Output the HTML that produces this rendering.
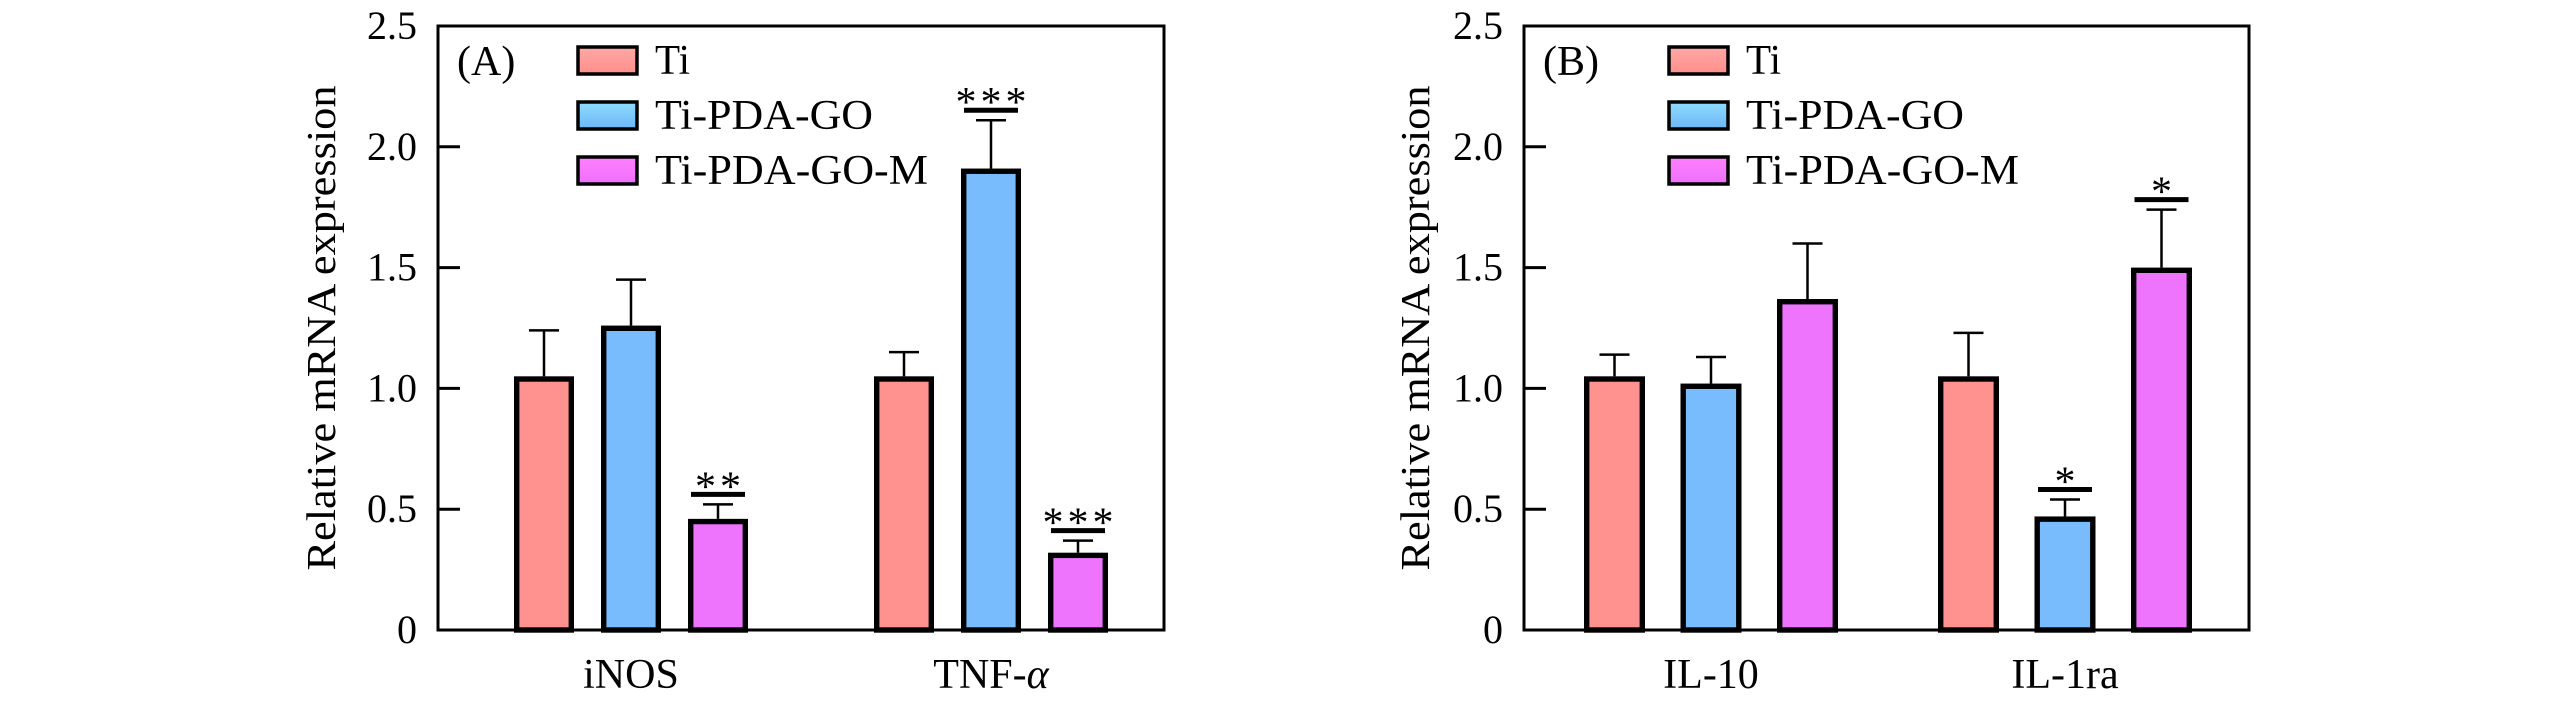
<!DOCTYPE html>
<html><head><meta charset="utf-8"><style>
html,body{margin:0;padding:0;background:#fff;}
svg{display:block;font-family:"Liberation Serif",serif;}
</style></head><body>
<svg id="chart" width="2567" height="709" viewBox="0 0 2567 709" xmlns="http://www.w3.org/2000/svg">
<defs>
<linearGradient id="gTi" x1="0" y1="0" x2="0" y2="1"><stop offset="0" stop-color="#ffa9a6"/><stop offset="1" stop-color="#ff8e8c"/></linearGradient>
<linearGradient id="gGO" x1="0" y1="0" x2="0" y2="1"><stop offset="0" stop-color="#8fdcff"/><stop offset="1" stop-color="#6db6f7"/></linearGradient>
<linearGradient id="gM" x1="0" y1="0" x2="0" y2="1"><stop offset="0" stop-color="#ff80ff"/><stop offset="1" stop-color="#ec70fb"/></linearGradient>
</defs>
</svg>
<script>
// ---- data ----
const seriesNames = ["Ti", "Ti-PDA-GO", "Ti-PDA-GO-M"];
const panelLabels = ["(A)", "(B)"];
const categoriesA = ["iNOS", "TNF-α"];
const categoriesB = ["IL-10", "IL-1ra"];
const valuesA_Ti = [1.05, 1.05];
const valuesA_GO = [1.26, 1.91];
const valuesA_M  = [0.46, 0.32];
const errA_Ti = [0.19, 0.10];
const errA_GO = [0.19, 0.20];
const errA_M  = [0.06, 0.05];
const sigA_Ti = ["", ""];
const sigA_GO = ["", "***"];
const sigA_M  = ["**", "***"];
const valuesB_Ti = [1.05, 1.05];
const valuesB_GO = [1.02, 0.47];
const valuesB_M  = [1.37, 1.50];
const errB_Ti = [0.09, 0.18];
const errB_GO = [0.11, 0.07];
const errB_M  = [0.23, 0.24];
const sigB_Ti = ["", ""];
const sigB_GO = ["", "*"];
const sigB_M  = ["", "*"];
const yTicks = [0, 0.5, 1.0, 1.5, 2.0, 2.5];
const yTickLabels = ["0", "0.5", "1.0", "1.5", "2.0", "2.5"];

const NS = "http://www.w3.org/2000/svg";
const svg = document.getElementById("chart");
const fills = ["#ff918f", "#78bcfd", "#ee74fe"];
const legFills = ["url(#gTi)", "url(#gGO)", "url(#gM)"];
const legWidths = [35, 218, 273];

function mk(tag, attrs, parent) {
  const e = document.createElementNS(NS, tag);
  for (const k in attrs) e.setAttribute(k, attrs[k]);
  (parent || svg).appendChild(e);
  return e;
}

function drawPanel(p) {
  const g = mk("g", {});
  
  
  const y0 = 630, y1 = 26, ymax = 2.5;
  const yScale = v => y0 - (v / ymax) * (y0 - y1);
  const xCenter = (ci, si) => p.left + p.groupOffsets[ci] + (si - 1) * p.step;

  yTicks.forEach((t, i) => {
    const y = yScale(t);
    if (t > 0 && t < ymax) {
      const tk = mk("line", {x1: p.left, x2: p.left + 22, y1: y, y2: y, stroke: "#000", "stroke-width": 3}, g);
      
      
    }
    const tl = mk("text", {x: p.left - 21, y: y + 13, "text-anchor": "end", "font-size": 40}, g);
    tl.textContent = yTickLabels[i];
    
    
  });

  const yt = mk("text", {x: 0, y: 0, "text-anchor": "middle", "font-size": 41, textLength: 485, lengthAdjust: "spacingAndGlyphs",
    transform: `translate(${p.titleX},328) rotate(-90)`}, g);
  yt.textContent = "Relative mRNA expression";
  
  

  const vals = [p.ti, p.go, p.m], errs = [p.eti, p.ego, p.em], sigs = [p.sti, p.sgo, p.sm];
  p.cats.forEach((c, ci) => {
    for (let si = 0; si < 3; si++) {
      const cx = xCenter(ci, si);
      const v = vals[si][ci], e = errs[si][ci];
      const top = yScale(v), et = yScale(v + e);
      const eb = mk("line", {x1: cx, x2: cx, y1: top, y2: et, stroke: "#000", "stroke-width": 2.5}, g);
      
      
      const ec = mk("line", {x1: cx - 15, x2: cx + 15, y1: et, y2: et, stroke: "#000", "stroke-width": 2.5}, g);
      
      
      const r = mk("rect", {x: cx - p.bw / 2 + 2.7, y: top + 2.7, width: p.bw - 5.4, height: y0 - top - 2.7,
        fill: fills[si], stroke: "#000", "stroke-width": 5.4}, g);
      
      
      const s = sigs[si][ci];
      if (s) {
        const sy = et - 10;
        const sl = mk("line", {x1: cx - 27, x2: cx + 27, y1: sy, y2: sy, stroke: "#000", "stroke-width": 5}, g);
        
        
        const st = mk("text", {x: cx + 2, y: sy + 6, "text-anchor": "middle", "font-size": 42, "letter-spacing": 4}, g);
        st.textContent = s;
        
        
      }
    }
    const cl = mk("text", {x: xCenter(ci, 1), y: 688, "text-anchor": "middle", "font-size": 42}, g);
    if (c.indexOf("α") >= 0) {
      const t1 = mk("tspan", {}, cl); t1.textContent = c.replace("α", "");
      const t2 = mk("tspan", {"font-style": "italic"}, cl); t2.textContent = "α";
    } else cl.textContent = c;
    
    
  });

  const fr = mk("rect", {x: p.left, y: y1, width: p.right - p.left, height: y0 - y1, fill: "none", stroke: "#000", "stroke-width": 3}, g);
  
  

  const pl = mk("text", {x: p.left + 19, y: 75, "font-size": 42}, g);
  pl.textContent = p.label;
  
  

  const legYs = [60, 115, 170];
  seriesNames.forEach((n, i) => {
    const sw = mk("rect", {x: p.legX, y: legYs[i] - 13, width: 59, height: 27, fill: legFills[i], stroke: "#000", "stroke-width": 3.5}, g);
    
    
    const lt = mk("text", {x: p.legX + 77, y: legYs[i] + 14, "font-size": 42, textLength: legWidths[i], lengthAdjust: "spacingAndGlyphs"}, g);
    lt.textContent = n;
    
    
  });
}

drawPanel({name: "panel-a", label: panelLabels[0], left: 438, right: 1164, groupOffsets: [193, 553], step: 87, bw: 60,
  titleX: 335, legX: 578, cats: categoriesA,
  ti: valuesA_Ti, go: valuesA_GO, m: valuesA_M, eti: errA_Ti, ego: errA_GO, em: errA_M, sti: sigA_Ti, sgo: sigA_GO, sm: sigA_M});
drawPanel({name: "panel-b", label: panelLabels[1], left: 1524, right: 2249, groupOffsets: [187, 541], step: 96.5, bw: 61,
  titleX: 1429, legX: 1669, cats: categoriesB,
  ti: valuesB_Ti, go: valuesB_GO, m: valuesB_M, eti: errB_Ti, ego: errB_GO, em: errB_M, sti: sigB_Ti, sgo: sigB_GO, sm: sigB_M});
</script>
</body></html>
